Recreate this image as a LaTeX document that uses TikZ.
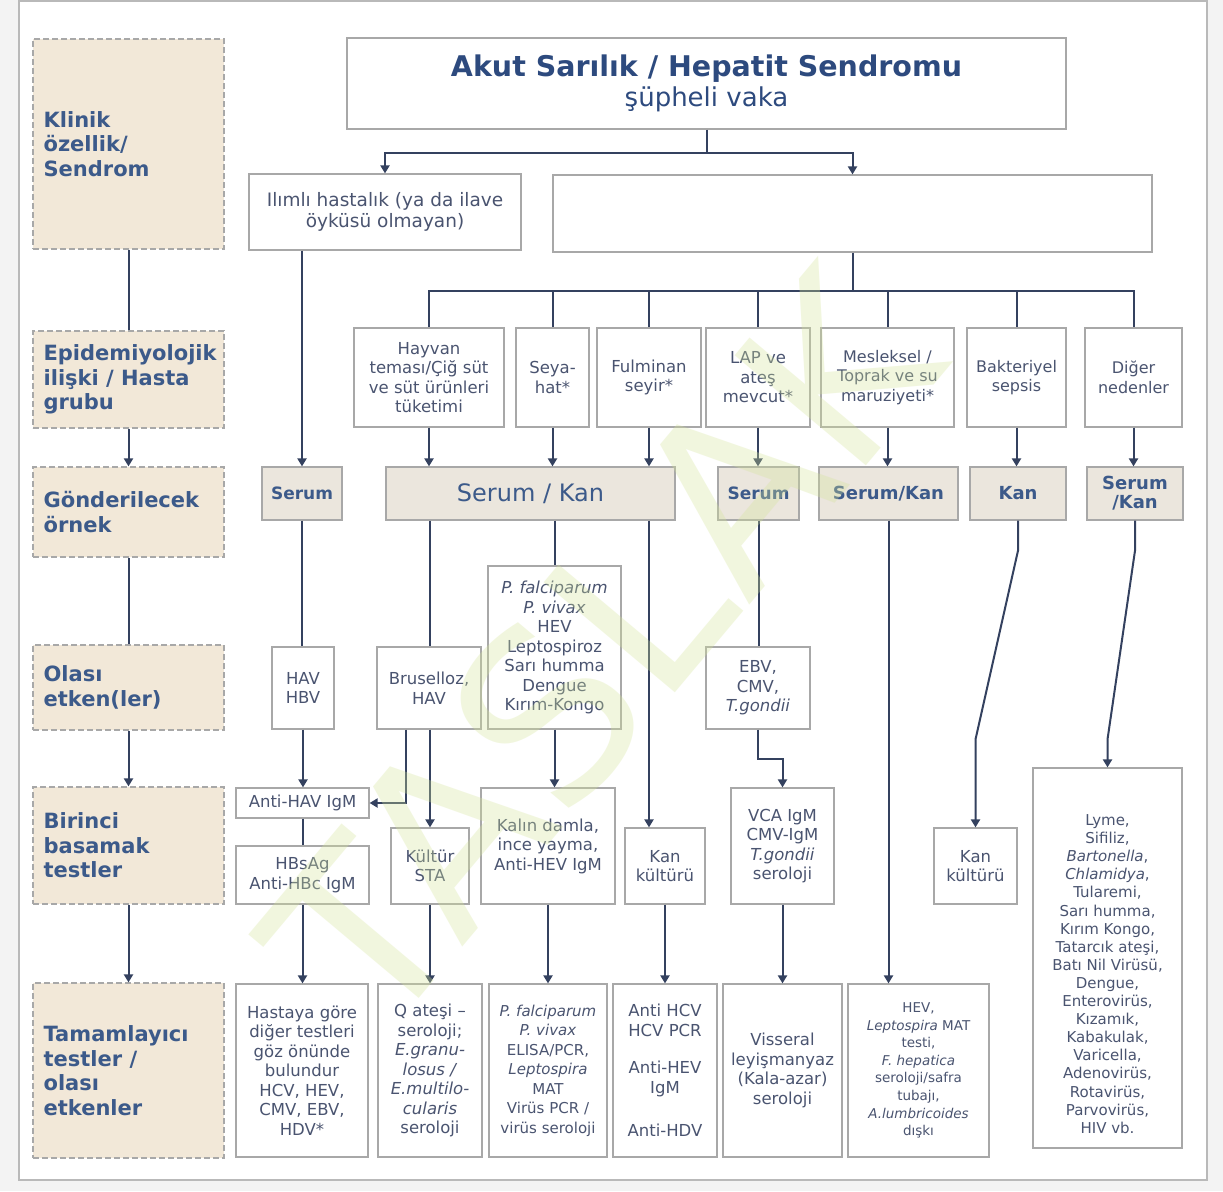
\documentclass[tikz,border=0pt]{standalone}
\usepackage{fontspec}
\setmainfont{DejaVu Sans}
\usetikzlibrary{arrows.meta,calc}
\definecolor{pagebg}{HTML}{F3F3F3}
\definecolor{framec}{HTML}{B9B9B9}
\definecolor{boxc}{HTML}{A8A8A8}
\definecolor{txtc}{HTML}{4A5470}
\definecolor{headc}{HTML}{3C5A8A}
\definecolor{titlec}{HTML}{2D4A7E}
\definecolor{linec}{HTML}{34415F}
\definecolor{labfill}{HTML}{F2E8D8}
\definecolor{serfill}{HTML}{EBE6DD}
\definecolor{wmark}{HTML}{D5E59A}

% box from corners: name, style, x1, y1, x2, y2, text
\newcommand\mkbox[7]{\node[#2, minimum width={#5-#3}, minimum height={#6-#4}] (#1) at ({(#3+#5)/2},{(#4+#6)/2}) {#7};}

\tikzset{
  wbox/.style={draw=boxc, line width=1.2pt, fill=white, text=txtc, align=center, inner sep=1pt,
    font=\fontsize{16.5}{19.5}\selectfont},
  smallbox/.style={wbox, font=\fontsize{13.5}{17.6}\selectfont},
  serbox/.style={draw=boxc, line width=1.2pt, fill=serfill, text=headc, align=center, inner sep=1pt,
    font=\bfseries\fontsize{17}{20}\selectfont},
  lab/.style={draw=boxc, dash pattern=on 6pt off 3pt, line width=1.2pt, fill=labfill},
  labtxt/.style={anchor=west, text=headc, align=left, inner sep=0pt,
    font=\bfseries\fontsize{21}{24.5}\selectfont},
  ln/.style={draw=linec, line width=2pt},
  arr/.style={ln, -{Triangle[length=8pt,width=9pt]}},
}

\begin{document}
\begin{tikzpicture}[x=1pt,y=-1pt]
\useasboundingbox (0,0) rectangle (1223,1191);
\fill[pagebg] (0,0) rectangle (1223,1191);
\draw[framec, fill=white, line width=1.2pt] (19,1) rectangle (1207,1180);

% ---- row labels ----
\mkbox{L1}{lab}{33}{39}{224}{249}{}
\mkbox{L2}{lab}{33}{331}{224}{428}{}
\mkbox{L3}{lab}{33}{467}{224}{557}{}
\mkbox{L4}{lab}{33}{645}{224}{730}{}
\mkbox{L5}{lab}{33}{787}{224}{904}{}
\mkbox{L6}{lab}{33}{983}{224}{1158}{}
\node[labtxt] (L1t) at ([xshift=11pt]L1.west) {Klinik\\özellik/\\Sendrom};
\node[labtxt] (L2t) at ([xshift=11pt]L2.west) {Epidemiyolojik\\ilişki / Hasta\\grubu};
\node[labtxt] (L3t) at ([xshift=11pt]L3.west) {Gönderilecek\\örnek};
\node[labtxt] (L4t) at ([xshift=11pt]L4.west) {Olası\\etken(ler)};
\node[labtxt] (L5t) at ([xshift=11pt]L5.west) {Birinci\\basamak\\testler};
\node[labtxt] (L6t) at ([xshift=11pt]L6.west) {Tamamlayıcı\\testler /\\olası\\etkenler};
\draw[ln]  (L1.south) -- (L2.north);
\draw[arr] (L2.south) -- (L3.north);
\draw[ln]  (L3.south) -- (L4.north);
\draw[arr] (L4.south) -- (L5.north);
\draw[arr] (L5.south) -- (L6.north);

% ---- syndrome ----
\mkbox{T}{wbox}{347}{38}{1066}{129}{{\color{titlec}\bfseries\fontsize{28.5}{33}\selectfont Akut Sarılık / Hepatit Sendromu}\\[3pt]{\color{titlec}\fontsize{26}{35}\selectfont şüpheli vaka}}
\mkbox{I}{wbox, font=\fontsize{18.5}{20.5}\selectfont}{249}{174}{521}{250}{Ilımlı hastalık (ya da ilave\\öyküsü olmayan)}
\mkbox{E}{wbox}{553}{175}{1152}{252}{}
\draw[ln] (T.south) -- ++(0,23) coordinate (tb);
\draw[arr] (tb) -| (I.north);
\draw[arr] (tb) -| (E.north);

% ---- epidemiology ----
\mkbox{hay}{wbox}{354}{328}{504}{427}{Hayvan\\teması/Çiğ süt\\ve süt ürünleri\\tüketimi}
\mkbox{sey}{wbox}{516}{328}{589}{427}{Seya-\\hat*}
\mkbox{ful}{wbox}{597}{328}{701}{427}{Fulminan\\seyir*}
\mkbox{lap}{wbox}{706}{328}{810}{427}{LAP ve\\ateş\\mevcut*}
\mkbox{mes}{wbox, font=\fontsize{16}{19.5}\selectfont}{821}{328}{954}{427}{Mesleksel /\\Toprak ve su\\maruziyeti*}
\mkbox{bak}{wbox, font=\fontsize{16}{19.5}\selectfont}{967}{328}{1066}{427}{Bakteriyel\\sepsis}
\mkbox{dig}{wbox, font=\fontsize{16}{19.5}\selectfont}{1085}{328}{1182}{427}{Diğer\\nedenler}
\draw[ln] (E.south) -- ++(0,38) coordinate (eb);
\foreach \b in {hay,sey,ful,lap,mes,bak,dig} \draw[ln] (eb) -| (\b.north);

% ---- specimens ----
\mkbox{s1}{serbox}{262}{467}{342}{520}{Serum}
\mkbox{s2}{serbox, font=\fontsize{24}{28}\selectfont}{386}{467}{675}{520}{Serum / Kan}
\mkbox{s3}{serbox}{718}{467}{799}{520}{Serum}
\mkbox{s4}{serbox, font=\bfseries\fontsize{18}{20}\selectfont}{819}{467}{958}{520}{Serum/Kan}
\mkbox{s5}{serbox, font=\bfseries\fontsize{18}{20}\selectfont}{970}{467}{1066}{520}{Kan}
\mkbox{s6}{serbox, font=\bfseries\fontsize{18}{19}\selectfont}{1087}{467}{1183}{520}{Serum\\/Kan}
\draw[arr] (s1.north |- I.south) -- (s1.north);
\foreach \b/\s in {hay/s2,sey/s2,ful/s2,lap/s3,mes/s4,bak/s5,dig/s6}
  \draw[arr] (\b.south) -- (\b.south |- \s.north);

% ---- possible agents ----
\mkbox{hav}{wbox}{272}{647}{334}{729}{HAV\\HBV}
\mkbox{bru}{wbox}{377}{647}{481}{729}{Bruselloz,\\HAV}
\mkbox{pf}{wbox}{488}{566}{621}{729}{\textit{P. falciparum}\\\textit{P. vivax}\\HEV\\Leptospiroz\\Sarı humma\\Dengue\\Kırım-Kongo}
\mkbox{ebv}{wbox}{706}{647}{810}{729}{EBV,\\CMV,\\\textit{T.gondii}}

% ---- first-line tests ----
\mkbox{ah}{wbox}{236}{788}{369}{818}{Anti-HAV IgM}
\mkbox{hbs}{wbox}{236}{846}{369}{904}{HBsAg\\Anti-HBc IgM}
\mkbox{kul}{wbox}{391}{828}{469}{904}{Kültür\\STA}
\mkbox{kal}{wbox}{481}{788}{615}{904}{Kalın damla,\\ince yayma,\\Anti-HEV IgM}
\mkbox{kan1}{wbox}{625}{828}{705}{904}{Kan\\kültürü}
\mkbox{vca}{wbox}{731}{788}{834}{904}{VCA IgM\\CMV-IgM\\\textit{T.gondii}\\seroloji}
\mkbox{kan2}{wbox}{934}{828}{1017}{904}{Kan\\kültürü}
\mkbox{lst}{wbox}{1033}{768}{1182}{1148}{}
\node[text=txtc, align=center, inner sep=0pt, font=\fontsize{15}{18.1}\selectfont] (lstt) at (1107.5,974)
  {Lyme,\\Sifiliz,\\\textit{Bartonella},\\\textit{Chlamidya},\\Tularemi,\\Sarı humma,\\Kırım Kongo,\\Tatarcık ateşi,\\Batı Nil Virüsü,\\Dengue,\\Enterovirüs,\\Kızamık,\\Kabakulak,\\Varicella,\\Adenovirüs,\\Rotavirüs,\\Parvovirüs,\\HIV vb.};

\draw[ln] (s1.south) -- (s1.south |- hav.north);
\draw[ln] (s2.south -| kul.north) -- (bru.north -| kul.north);
\draw[ln] (s2.south -| pf.north) -- (pf.north);
\draw[arr] (s2.south -| ful.south) -- (ful.south |- kan1.north);
\draw[ln] (s3.south) -- (s3.south |- ebv.north);
\draw[arr] (hav.south) -- (hav.south |- ah.north);
\draw[ln] (ah.south) -- (hbs.north);
\draw[arr] ([xshift=-23pt]bru.south) |- (ah.east);
\draw[arr] (bru.south -| kul.north) -- (kul.north);
\draw[arr] (pf.south) -- (pf.south |- kal.north);
\draw[arr] (ebv.south) -- ++(0,29) -| (vca.north);
\draw[arr] (s5.south) -- ++(0,30) -- ($(kan2.north)+(0,-88)$) -- (kan2.north);
\draw[arr] (s6.south) -- ++(0,30) -- ($(lst.north)+(0,-28)$) -- (lst.north);

% ---- complementary tests ----
\mkbox{has}{wbox}{236}{984}{368}{1157}{Hastaya göre\\diğer testleri\\göz önünde\\bulundur\\HCV, HEV,\\CMV, EBV,\\HDV*}
\mkbox{qat}{wbox}{378}{984}{482}{1157}{Q ateşi –\\seroloji;\\\textit{E.granu-}\\\textit{losus /}\\\textit{E.multilo-}\\\textit{cularis}\\seroloji}
\mkbox{pfb}{wbox, font=\fontsize{15}{19.5}\selectfont}{489}{984}{607}{1157}{\textit{P. falciparum}\\\textit{P. vivax}\\ELISA/PCR,\\\textit{Leptospira}\\MAT\\Virüs PCR /\\virüs seroloji}
\mkbox{ahc}{wbox}{613}{984}{717}{1157}{Anti HCV\\HCV PCR\\[18pt]Anti-HEV\\IgM\\[24pt]Anti-HDV}
\mkbox{vis}{wbox}{723}{984}{842}{1157}{Visseral\\leyişmanyaz\\(Kala-azar)\\seroloji}
\mkbox{hev}{smallbox}{848}{984}{989}{1157}{HEV,\\\textit{Leptospira} MAT\\testi,\\\textit{F. hepatica}\\seroloji/safra\\tubajı,\\\textit{A.lumbricoides}\\dışkı}

\draw[arr] (hbs.south) -- (hbs.south |- has.north);
\draw[arr] (kul.south) -- (kul.south |- qat.north);
\draw[arr] (kal.south) -- (kal.south |- pfb.north);
\draw[arr] (kan1.south) -- (kan1.south |- ahc.north);
\draw[arr] (vca.south) -- (vca.south |- vis.north);
\draw[arr] (s4.south) -- (s4.south |- hev.north);

% ---- draft watermark ----
\node[rotate=50, text=wmark, opacity=0.32, inner sep=0pt, font=\fontsize{235}{235}\selectfont] (wm) at (600,650) {TASLAK};
\end{tikzpicture}
\end{document}
